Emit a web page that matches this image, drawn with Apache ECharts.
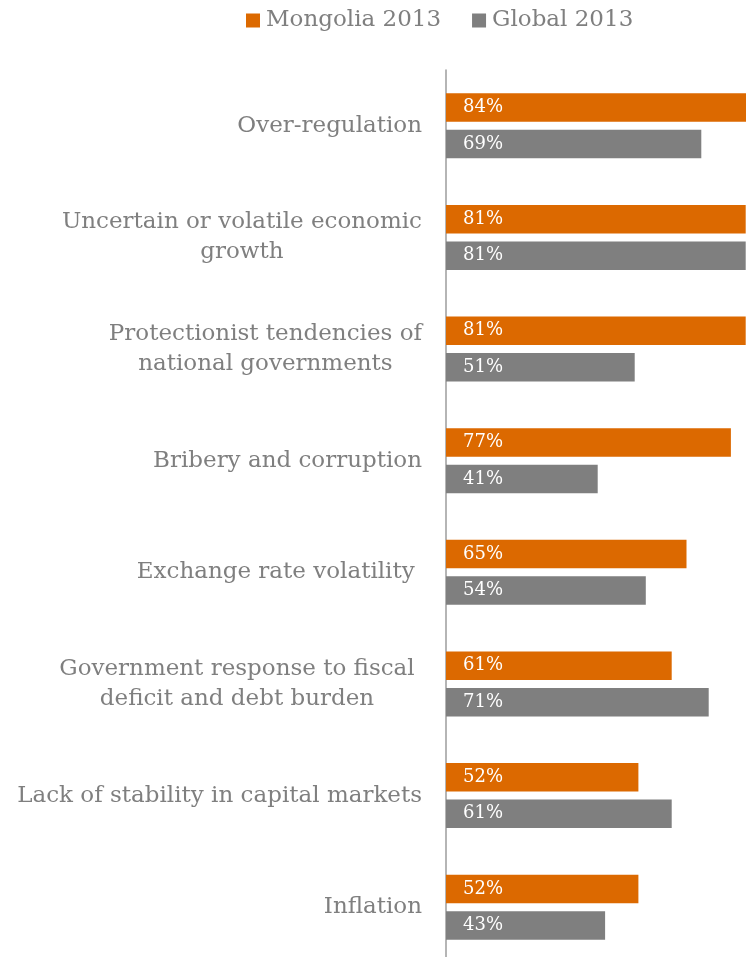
<!DOCTYPE html>
<html>
<head>
<meta charset="utf-8">
<script src="https://cdn.jsdelivr.net/npm/echarts@6/dist/echarts.min.js"></script>
<style>
  html, body { margin: 0; padding: 0; background: #ffffff; }
  #chart { width: 746px; height: 957px; }
</style>
</head>
<body>
<div id="chart"></div>
<script>
// Risks ranked by share of CEOs concerned
const categories = [
  'Over-regulation',
  'Uncertain or volatile economic\ngrowth',
  'Protectionist tendencies of\nnational governments',
  'Bribery and corruption',
  'Exchange rate volatility ',
  'Government response to fiscal \ndeficit and debt burden ',
  'Lack of stability in capital markets',
  'Inflation'
];
const mongolia2013 = [84, 81, 81, 77, 65, 61, 52, 52];
const global2013 = [69, 81, 51, 41, 54, 71, 61, 43];
const seriesNames = ['Mongolia 2013', 'Global 2013'];

const FONT = 'DejaVu Serif';
const TEXT_GREY = '#7f7f7f';

const chart = echarts.init(document.getElementById('chart'), null, { renderer: 'canvas' });

const barLabel = {
  show: true,
  position: 'insideLeft',
  distance: 17,
  formatter: '{c}%',
  color: '#ffffff',
  fontFamily: FONT,
  fontSize: 18
};

chart.setOption({
  animation: false,
  backgroundColor: '#ffffff',
  legend: {
    data: seriesNames,
    top: 4,
    left: 241,
    itemWidth: 14,
    itemHeight: 14,
    itemGap: 31,
    icon: 'rect',
    textStyle: { fontFamily: FONT, fontSize: 23, color: TEXT_GREY, padding: [0, 0, 0, 1] }
  },
  grid: {
    left: 446,
    top: 70,
    width: 370,
    height: 893,
    containLabel: false,
    outerBoundsMode: 'none'
  },
  xAxis: {
    type: 'value',
    min: 0,
    max: 100,
    show: false,
    splitLine: { show: false }
  },
  yAxis: {
    type: 'category',
    data: categories,
    inverse: true,
    axisTick: { show: false },
    axisLine: { show: true, lineStyle: { color: '#9c9c9c', width: 1.5 } },
    axisLabel: {
      margin: 24,
      fontFamily: FONT,
      fontSize: 23,
      color: TEXT_GREY,
      lineHeight: 30,
      formatter: (v) => v.split('\n').map(line => '{c|' + line + '}').join('\n'),
      rich: {
        c: { align: 'center', fontFamily: FONT, fontSize: 23, color: TEXT_GREY, lineHeight: 30 }
      }
    }
  },
  series: [
    {
      name: seriesNames[0],
      type: 'bar',
      data: mongolia2013,
      barWidth: 28.5,
      barGap: '28%',
      itemStyle: { color: '#dc6900' },
      label: barLabel
    },
    {
      name: seriesNames[1],
      type: 'bar',
      data: global2013,
      barWidth: 28.5,
      barGap: '28%',
      itemStyle: { color: '#7f7f7f' },
      label: barLabel
    }
  ]
});
</script>
</body>
</html>
